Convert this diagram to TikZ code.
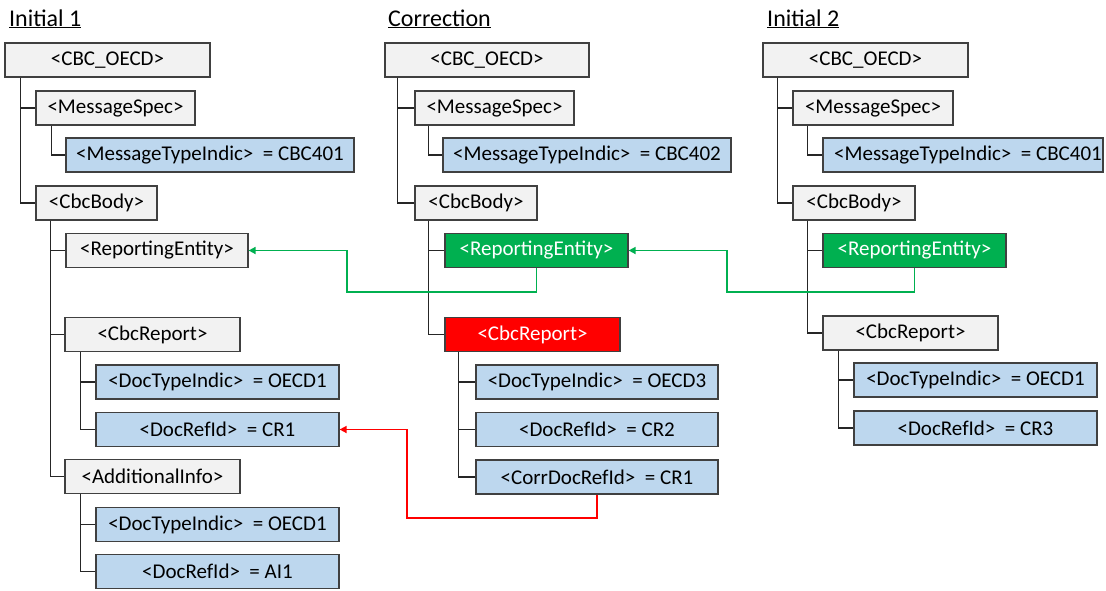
\documentclass[tikz,border=0pt]{standalone}
\usepackage{fontspec}
\setmainfont{Carlito}
\usetikzlibrary{arrows.meta}
\definecolor{gfill}{HTML}{F2F2F2}
\definecolor{bfill}{HTML}{BDD7EE}
\definecolor{bord}{HTML}{404040}
\definecolor{grn}{HTML}{00B050}
\definecolor{rd}{HTML}{FF0000}
\begin{document}
\begin{tikzpicture}[x=1pt,y=-1pt,
  base/.style={draw=bord, line width=1.2pt, minimum height=34pt, inner sep=0pt, font=\fontsize{21}{25}\selectfont},
  gbox/.style={base, fill=gfill},
  bbox/.style={base, fill=bfill},
  grbox/.style={base, fill=grn, text=white},
  rbox/.style={base, fill=rd, text=white},
  tree/.style={draw=black!85, line width=1.2pt},
  garrow/.style={draw=grn, line width=1.6pt, -{Triangle[length=7pt,width=7pt]}},
  rarrow/.style={draw=rd, line width=1.6pt, -{Triangle[length=7pt,width=7pt]}},
  title/.style={anchor=base west, inner sep=0pt, font=\fontsize{24}{28}\selectfont}]
\useasboundingbox (0,0) rectangle (1106,590);

% titles
\node[title] (t1) at (9,26) {\underline{Initial 1}};
\node[title] (t2) at (388,26) {\underline{Correction}};
\node[title] (t3) at (767,26) {\underline{Initial 2}};

% Initial 1
\node[gbox, minimum width=205pt] (A_root) at (107.5,60) {<CBC\_OECD>};
\node[gbox, minimum width=159pt] (A_ms) at (115.5,108) {<MessageSpec>};
\node[bbox, minimum width=288pt] (A_mti) at (210,155) {<MessageTypeIndic>\ \ = CBC401};
\node[gbox, minimum width=121pt] (A_body) at (96.5,203) {<CbcBody>};
\node[gbox, minimum width=182pt] (A_re) at (157,250.5) {<ReportingEntity>};
\node[gbox, minimum width=175pt] (A_rep) at (152.5,334.5) {<CbcReport>};
\node[bbox, minimum width=243pt] (A_dti) at (217.5,382) {<DocTypeIndic>\ \ = OECD1};
\node[bbox, minimum width=243pt] (A_dri) at (217.5,429.5) {<DocRefId>\ \ = CR1};
\node[gbox, minimum width=175pt] (A_add) at (152.5,476.5) {<AdditionalInfo>};
\node[bbox, minimum width=243pt] (A_dti2) at (217.5,524.5) {<DocTypeIndic>\ \ = OECD1};
\node[bbox, minimum width=243pt] (A_dri2) at (217.5,571.5) {<DocRefId>\ \ = AI1};

\draw[tree] ([xshift=16pt]A_root.south west) |- (A_ms.west);
\draw[tree] ([xshift=16pt]A_root.south west) |- (A_body.west);
\draw[tree] ([xshift=16pt]A_ms.south west) |- (A_mti.west);
\draw[tree] ([xshift=15pt]A_body.south west) |- (A_re.west);
\draw[tree] ([xshift=15pt]A_body.south west) |- (A_rep.west);
\draw[tree] ([xshift=15pt]A_body.south west) |- (A_add.west);
\draw[tree] ([xshift=16pt]A_rep.south west) |- (A_dti.west);
\draw[tree] ([xshift=16pt]A_rep.south west) |- (A_dri.west);
\draw[tree] ([xshift=16pt]A_add.south west) |- (A_dti2.west);
\draw[tree] ([xshift=16pt]A_add.south west) |- (A_dri2.west);

% Correction
\node[gbox, minimum width=204pt] (B_root) at (487,60) {<CBC\_OECD>};
\node[gbox, minimum width=159pt] (B_ms) at (494.5,108) {<MessageSpec>};
\node[bbox, minimum width=288pt] (B_mti) at (587,155) {<MessageTypeIndic>\ \ = CBC402};
\node[gbox, minimum width=122pt] (B_body) at (476,203) {<CbcBody>};
\node[grbox, minimum width=183pt] (B_re) at (536.5,250.5) {<ReportingEntity>};
\node[rbox, minimum width=175pt] (B_rep) at (532.5,334.5) {<CbcReport>};
\node[bbox, minimum width=242pt] (B_dti) at (597,382) {<DocTypeIndic>\ \ = OECD3};
\node[bbox, minimum width=242pt] (B_dri) at (597,429.5) {<DocRefId>\ \ = CR2};
\node[bbox, minimum width=242pt] (B_cdri) at (597,477) {<CorrDocRefId>\ \ = CR1};

\draw[tree] ([xshift=13pt]B_root.south west) |- (B_ms.west);
\draw[tree] ([xshift=13pt]B_root.south west) |- (B_body.west);
\draw[tree] ([xshift=14pt]B_ms.south west) |- (B_mti.west);
\draw[tree] ([xshift=14pt]B_body.south west) |- (B_re.west);
\draw[tree] ([xshift=14pt]B_body.south west) |- (B_rep.west);
\draw[tree] ([xshift=14pt]B_rep.south west) |- (B_dti.west);
\draw[tree] ([xshift=14pt]B_rep.south west) |- (B_dri.west);
\draw[tree] ([xshift=14pt]B_rep.south west) |- (B_cdri.west);

% Initial 2
\node[gbox, minimum width=205pt] (C_root) at (865.5,60) {<CBC\_OECD>};
\node[gbox, minimum width=160pt] (C_ms) at (873,108) {<MessageSpec>};
\node[bbox, minimum width=280pt] (C_mti) at (963,155) {\hspace*{10pt}<MessageTypeIndic>\ \ = CBC401};
\node[gbox, minimum width=122pt] (C_body) at (854,203) {<CbcBody>};
\node[grbox, minimum width=183pt] (C_re) at (914.5,250.5) {<ReportingEntity>};
\node[gbox, minimum width=175pt] (C_rep) at (910.5,333) {<CbcReport>};
\node[bbox, minimum width=243pt] (C_dti) at (975.5,380) {<DocTypeIndic>\ \ = OECD1};
\node[bbox, minimum width=243pt] (C_dri) at (975.5,428) {<DocRefId>\ \ = CR3};

\draw[tree] ([xshift=15pt]C_root.south west) |- (C_ms.west);
\draw[tree] ([xshift=15pt]C_root.south west) |- (C_body.west);
\draw[tree] ([xshift=15pt]C_ms.south west) |- (C_mti.west);
\draw[tree] ([xshift=15pt]C_body.south west) |- (C_re.west);
\draw[tree] ([xshift=15pt]C_body.south west) |- (C_rep.west);
\draw[tree] ([xshift=16pt]C_rep.south west) |- (C_dti.west);
\draw[tree] ([xshift=16pt]C_rep.south west) |- (C_dri.west);

% reference connectors
\coordinate (g1) at (347,292);
\coordinate (g2) at (727,292);
\coordinate (r1) at (407,518);
\draw[garrow] (B_re.south) |- (g1) |- (A_re.east);
\draw[garrow] (C_re.south) |- (g2) |- (B_re.east);
\draw[rarrow] (B_cdri.south) |- (r1) |- (A_dri.east);
\end{tikzpicture}
\end{document}
